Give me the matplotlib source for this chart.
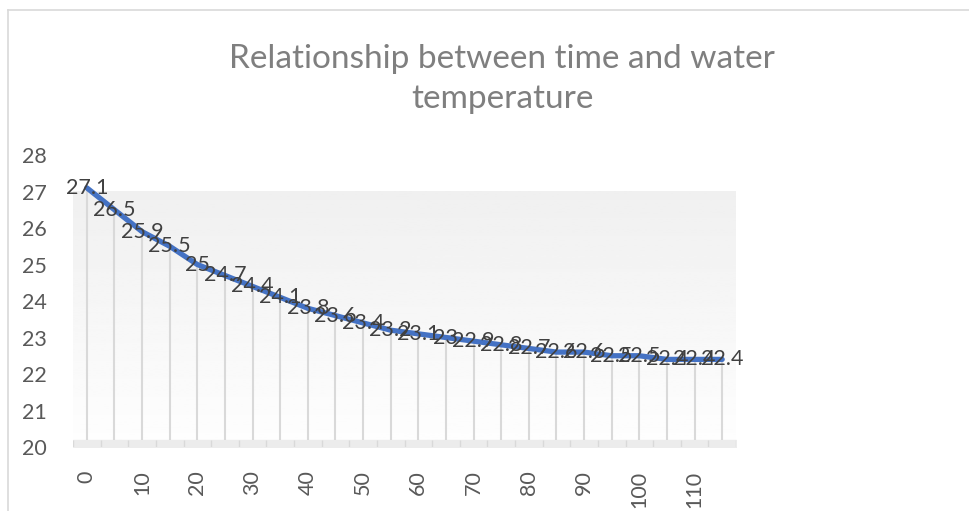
import numpy as np
import matplotlib.pyplot as plt
from matplotlib.lines import Line2D

plt.rcParams['font.family'] = ['Lato', 'DejaVu Sans']

time = [0, 5, 10, 15, 20, 25, 30, 35, 40, 45, 50, 55, 60, 65, 70, 75, 80, 85, 90, 95, 100, 105, 110, 115]
temp = [27.1, 26.5, 25.9, 25.5, 25, 24.7, 24.4, 24.1, 23.8, 23.6, 23.4, 23.2, 23.1, 23, 22.9, 22.8,
        22.7, 22.6, 22.6, 22.5, 22.5, 22.4, 22.4, 22.4]
title = 'Relationship between time and water\ntemperature'

fig = plt.figure(figsize=(9.69, 5.11), dpi=100)
ax = fig.add_axes([73 / 969, 1 - 447 / 511, (736 - 73) / 969, (447 - 155) / 511])

step = time[1] - time[0]
x0, x1 = time[0] - step / 2, time[-1] + step / 2
ax.set_xlim(x0, x1)
ax.set_ylim(20, 28)

# back wall gradient
grad = np.linspace(0.995, 0.94, 100).reshape(-1, 1)
ax.imshow(grad, extent=[x0, x1, 27, 20], aspect='auto', cmap='gray', vmin=0, vmax=1, zorder=0)
ax.set_ylim(20, 28)

# floor
ax.fill_between([x0, x1], 20, 20.19, color='#ececec', zorder=1)
ax.vlines(np.array(time) - step / 2, 20, 20.19, color='#d9d9d9', lw=1, zorder=1)
ax.vlines(x1, 20, 20.19, color='#d9d9d9', lw=1, zorder=1)

# drop lines
ax.vlines(time, 20.19, temp, color='#d9d9d9', lw=1.5, zorder=2)

ax.plot(time, temp, color='#4472C4', lw=3.8, solid_capstyle='round', zorder=3)

for t, v in zip(time, temp):
    ax.text(t, v, f'{v:g}', ha='center', va='center', fontsize=15.5, color='#404040', zorder=4)

for s in ax.spines.values():
    s.set_visible(False)
ax.set_yticks(range(20, 29))
ax.set_xticks(time[::2])
ax.set_xticklabels([str(t) for t in time[::2]], rotation=90)
ax.tick_params(axis='y', length=0, pad=19, labelsize=15.5, labelcolor='#595959')
ax.tick_params(axis='x', length=0, pad=17, labelsize=15.5, labelcolor='#595959')

fig.text(502 / 969, 1 - 79 / 511, title, ha='center', va='center', fontsize=24,
         color='#7f7f7f', linespacing=1.4)

# chart frame
fig.add_artist(Line2D([8 / 969, 8 / 969], [0, 1 - 10 / 511], color='#d9d9d9', lw=1.2))
fig.add_artist(Line2D([8 / 969, 1], [1 - 10 / 511, 1 - 10 / 511], color='#d9d9d9', lw=1.2))

fig.savefig('out.png', dpi=100)
